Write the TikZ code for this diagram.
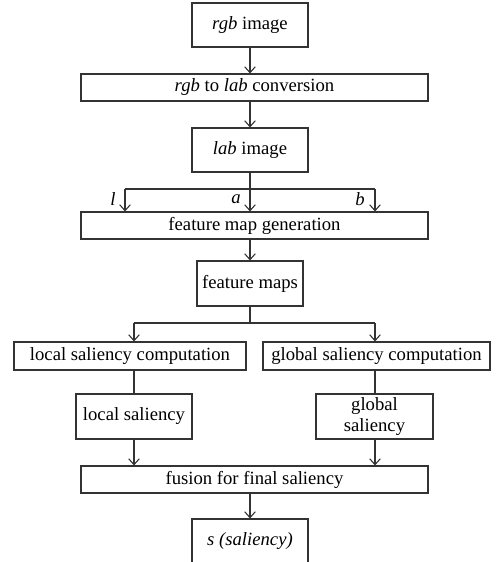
\documentclass[tikz,border=0pt]{standalone}
\usepackage{fontspec}
\setmainfont{Liberation Serif}
\usetikzlibrary{arrows.meta}
\pgfdeclarelayer{nodelayer}
\pgfdeclarelayer{edgelayer}
\pgfsetlayers{edgelayer,nodelayer,main}
\tikzstyle{box}=[fill=white, draw=black!80, line width=0.8pt, shape=rectangle, inner sep=0pt, font=\fontsize{14}{16}\selectfont, align=center]
\tikzstyle{wide box}=[box, minimum width=260.25pt, minimum height=20.25pt]
\tikzstyle{none}=[fill=none, draw=none, inner sep=0pt, font=\fontsize{14}{16}\selectfont\itshape]
\tikzstyle{arrow edge}=[draw=black!80, line width=0.8pt, -{Straight Barb[length=4.5pt, width=8pt]}]
\tikzstyle{plain edge}=[draw=black!80, line width=0.8pt]

\begin{document}
\begin{tikzpicture}[x=0.75pt, y=-0.75pt]
	\useasboundingbox (0, 0) rectangle (498, 562);
	\begin{pgfonlayer}{nodelayer}
		\node [style=box, minimum width=87pt, minimum height=33pt] (0) at (250, 25) {\textit{rgb} image};
		\node [style=wide box] (1) at (254.5, 87.5) {\textit{rgb} to \textit{lab} conversion};
		\node [style=box, minimum width=87pt, minimum height=33pt] (2) at (250, 150) {\textit{lab} image};
		\node [style=wide box] (3) at (254.5, 225.5) {feature map generation};
		\node [style=box, minimum width=79.5pt, minimum height=33.75pt] (4) at (250, 283.5) {feature maps};
		\node [style=box, minimum width=174pt, minimum height=21pt] (5) at (130, 356) {local saliency computation};
		\node [style=box, minimum width=170.25pt, minimum height=21pt] (6) at (376.5, 356) {global saliency computation};
		\node [style=box, minimum width=87pt, minimum height=33.75pt] (7) at (134, 416.5) {local saliency};
		\node [style=box, minimum width=87.75pt, minimum height=33.75pt] (8) at (374.5, 416.5) {global\\saliency};
		\node [style=wide box] (9) at (254.5, 479.5) {fusion for final saliency};
		\node [style=box, minimum width=87pt, minimum height=33pt] (10) at (250, 541) {\textit{s (saliency)}};
		\coordinate (11) at (125, 189);
		\coordinate (12) at (375, 189);
		\coordinate (13) at (134, 323);
		\coordinate (14) at (375, 323);
		\node [style=none] (15) at (113, 199) {l};
		\node [style=none] (16) at (236, 199) {a};
		\node [style=none] (17) at (360, 199) {b};
	\end{pgfonlayer}
	\begin{pgfonlayer}{edgelayer}
		\draw [style=arrow edge] (0) to (1.north -| 0.south);
		\draw [style=arrow edge] (1.south -| 0.south) to (2);
		\draw [style=arrow edge] (2.south) to (2.south |- 3.north);
		\draw [style=plain edge] (11) to (12);
		\draw [style=arrow edge] (11) to (11 |- 3.north);
		\draw [style=arrow edge] (12) to (12 |- 3.north);
		\draw [style=arrow edge] (3.south -| 4.north) to (4);
		\draw [style=plain edge] (4.south) to (4.south |- 13);
		\draw [style=plain edge] (13) to (14);
		\draw [style=arrow edge] (13) to (13 |- 5.north);
		\draw [style=arrow edge] (14) to (14 |- 6.north);
		\draw [style=plain edge] (5.south -| 7.north) to (7);
		\draw [style=plain edge] (6.south -| 14) to (14 |- 8.north);
		\draw [style=arrow edge] (7) to (7.south |- 9.north);
		\draw [style=arrow edge] (8.south -| 14) to (14 |- 9.north);
		\draw [style=arrow edge] (9.south -| 10.north) to (10);
	\end{pgfonlayer}
\end{tikzpicture}
\end{document}
